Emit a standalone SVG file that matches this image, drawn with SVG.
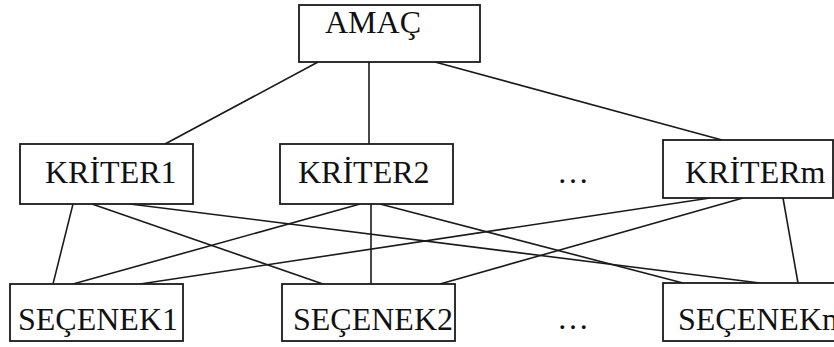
<svg xmlns="http://www.w3.org/2000/svg" width="834" height="347" viewBox="0 0 834 347">
  <style>
    .box { fill: #ffffff; stroke: #1a1a1a; stroke-width: 1.8; }
    .link { stroke: #1a1a1a; stroke-width: 1.6; fill: none; }
    .label { font-family: "Liberation Serif", "Times New Roman", serif; font-size: 32px; fill: #111111; }
  </style>
  <rect width="834" height="347" fill="#ffffff"/>

  <!-- connectors -->
  <g id="connectors">
    <line class="link" x1="318" y1="62" x2="165" y2="144"/>
    <line class="link" x1="369" y1="62" x2="369" y2="144"/>
    <line class="link" x1="435" y1="62" x2="722" y2="140"/>
    <line class="link" x1="73" y1="204" x2="53" y2="284"/>
    <line class="link" x1="92" y1="204" x2="323" y2="284"/>
    <line class="link" x1="130" y1="204" x2="760" y2="283"/>
    <line class="link" x1="360" y1="204" x2="73" y2="284"/>
    <line class="link" x1="371" y1="204" x2="371" y2="284"/>
    <line class="link" x1="380" y1="204" x2="683" y2="283"/>
    <line class="link" x1="710" y1="198" x2="140" y2="284"/>
    <line class="link" x1="743" y1="198" x2="440" y2="284"/>
    <line class="link" x1="783" y1="198" x2="798" y2="283"/>
  </g>

  <!-- goal -->
  <g id="amac">
    <rect class="box" x="299" y="5" width="181" height="57"/>
    <text class="label" x="325" y="33">AMAÇ</text>
  </g>

  <!-- criteria -->
  <g id="kriter1">
    <rect class="box" x="20" y="144" width="173" height="60"/>
    <text class="label" x="45" y="183">KRİTER1</text>
  </g>
  <g id="kriter2">
    <rect class="box" x="280" y="144" width="173" height="60"/>
    <text class="label" x="298" y="183">KRİTER2</text>
  </g>
  <text class="label" x="557" y="183">…</text>
  <g id="kriterm">
    <rect class="box" x="663" y="140" width="170" height="58"/>
    <text class="label" x="685" y="183">KRİTERm</text>
  </g>

  <!-- alternatives -->
  <g id="secenek1">
    <rect class="box" x="10" y="284" width="173" height="57"/>
    <text class="label" x="18" y="330">SEÇENEK1</text>
  </g>
  <g id="secenek2">
    <rect class="box" x="282" y="284" width="173" height="57"/>
    <text class="label" x="293" y="330">SEÇENEK2</text>
  </g>
  <text class="label" x="557" y="329">…</text>
  <g id="secenekm">
    <rect class="box" x="663" y="283" width="180" height="58"/>
    <text class="label" x="678" y="330">SEÇENEKm</text>
  </g>
</svg>
